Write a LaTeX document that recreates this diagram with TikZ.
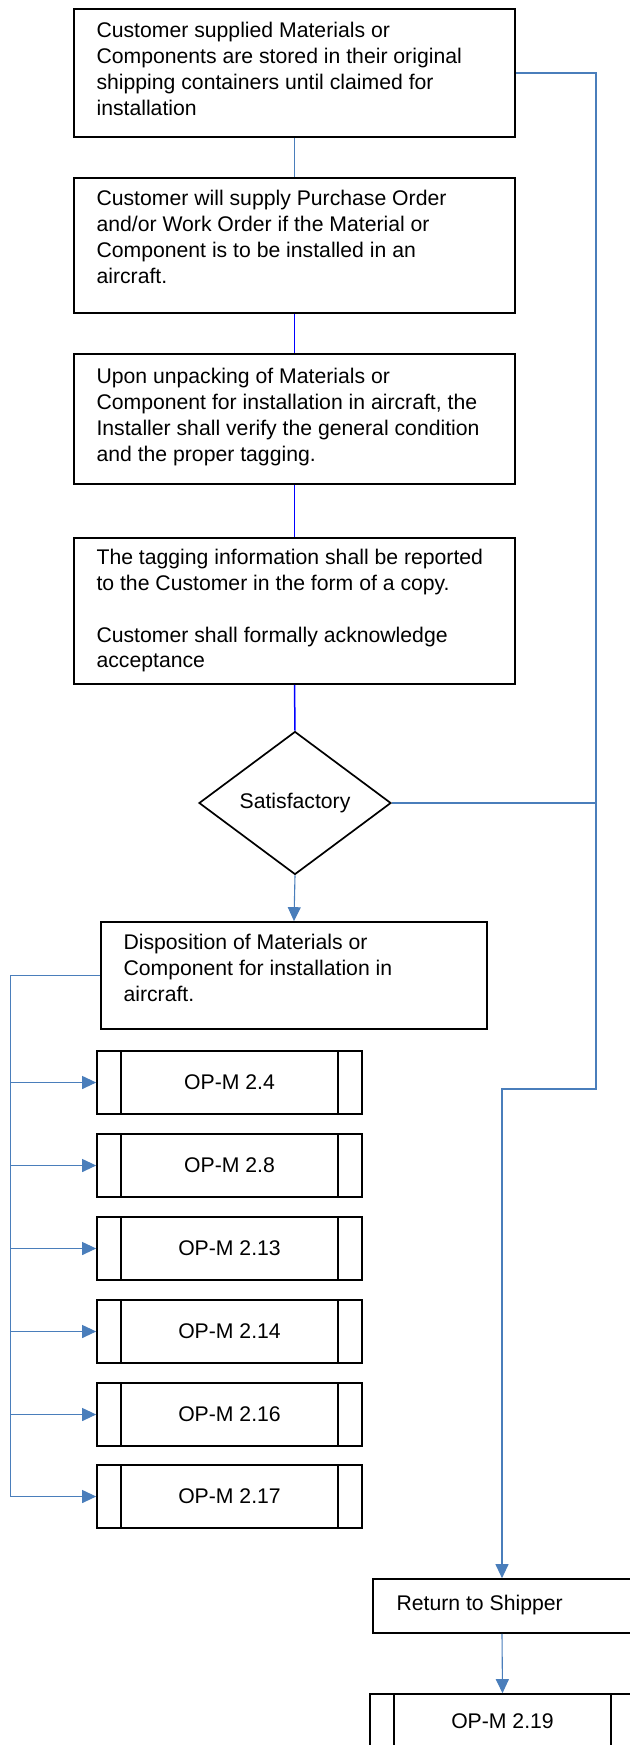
\documentclass[tikz,border=0pt]{standalone}
\usepackage{fontspec}
\setmainfont{Liberation Sans}
\usetikzlibrary{shapes.geometric,arrows.meta}
\definecolor{linkblue}{HTML}{4A7EBB}
\definecolor{flowblue}{HTML}{0000FF}
\begin{document}
\begin{tikzpicture}[x=0.5pt,y=-0.5pt,
  every node/.style={font=\fontsize{10.6pt}{12.85pt}\selectfont},
  box/.style={draw=black, line width=0.85pt, rectangle, inner sep=0pt, anchor=center},
  % text blocks hang from the top of a strut, 9pt above the first baseline
  txt/.style={inner sep=0pt, anchor=north west, align=left, execute at begin node={\strut}},
  opbox/.style={box, minimum width=132.5pt, minimum height=31.5pt,
    path picture={
      \draw[black, line width=0.85pt]
        ([xshift=12pt]path picture bounding box.north west) -- ([xshift=12pt]path picture bounding box.south west)
        ([xshift=-12pt]path picture bounding box.north east) -- ([xshift=-12pt]path picture bounding box.south east);
    }},
  decision/.style={draw=black, line width=0.85pt, diamond, inner sep=0pt,
    minimum width=96pt, minimum height=71.5pt},
  link/.style={draw=linkblue, line width=0.55pt},
  flow/.style={draw=flowblue, line width=0.75pt},
  tip/.style={-{Triangle[length=7pt,width=6.5pt,fill=linkblue]}}
]
\clip (0,0) rectangle (630,1745);

% main column of process boxes
\node[box, minimum width=220.5pt, minimum height=64pt]   (b1) at (294.5,73) {};
\node[box, minimum width=220.5pt, minimum height=67.5pt] (b2) at (294.5,245.5) {};
\node[box, minimum width=220.5pt, minimum height=65pt]   (b3) at (294.5,419) {};
\node[box, minimum width=220.5pt, minimum height=73pt]   (b4) at (294.5,611) {};
\node[decision] (d) at (295,803) {Satisfactory};
\node[box, minimum width=193pt, minimum height=53.5pt]   (b5) at (294,975.5) {};

\node[txt] (b1t) at ([xshift=11.5pt,yshift=-7pt]b1.north west)
  {Customer supplied Materials or\\Components are stored in their original\\shipping containers until claimed for\\installation};
\node[txt] (b2t) at ([xshift=11.5pt,yshift=-6.5pt]b2.north west)
  {Customer will supply Purchase Order\\and/or Work Order if the Material or\\Component is to be installed in an\\aircraft.};
\node[txt] (b3t) at ([xshift=11.5pt,yshift=-7.5pt]b3.north west)
  {Upon unpacking of Materials or\\Component for installation in aircraft, the\\Installer shall verify the general condition\\and the proper tagging.};
\node[txt] (b4t) at ([xshift=11.5pt,yshift=-6pt]b4.north west)
  {The tagging information shall be reported\\to the Customer in the form of a copy.\\[12.85pt]Customer shall formally acknowledge\\acceptance};
\node[txt] (b5t) at ([xshift=11.5pt,yshift=-6.5pt]b5.north west)
  {Disposition of Materials or\\Component for installation in\\aircraft.};

% predefined process boxes
\node[opbox] (op1) at (229.5,1082.5) {OP-M 2.4};
\node[opbox] (op2) at (229.5,1165.5) {OP-M 2.8};
\node[opbox] (op3) at (229.5,1248.5) {OP-M 2.13};
\node[opbox] (op4) at (229.5,1331.5) {OP-M 2.14};
\node[opbox] (op5) at (229.5,1414.5) {OP-M 2.16};
\node[opbox] (op6) at (229.5,1496.5) {OP-M 2.17};

% rejection branch
\node[box, minimum width=129pt, minimum height=27pt] (ret) at (502,1606) {};
\node[txt] (rett) at ([xshift=12pt,yshift=-7pt]ret.north west) {Return to Shipper};
\node[opbox, minimum height=27pt] (op7) at (502.5,1721) {OP-M 2.19};

% routing points
\coordinate (rbend) at (596,1089);
\coordinate (lx) at (10.7,976);

% connectors
\draw[link] (b1.south) -- (b2.north);
\draw[flow] (b2.south) -- (b3.north);
\draw[flow] (b3.south) -- (b4.north);
\draw[flow] (b4.south) -- (d.north);
\draw[link,tip] (d.south) -- (b5.north);

\draw[link,tip] (b1.east) -| (rbend) -| (ret.north);
\draw[link] (d.east) -- (d.east -| rbend);
\draw[link,tip] (ret.south) -- (op7.north);

\draw[link] (b5.west) -- (b5.west -| lx) -- (op6.west -| lx);
\foreach \i in {1,...,6}
  \draw[link,tip] (op\i.west -| lx) -- (op\i.west);
\end{tikzpicture}
\end{document}
